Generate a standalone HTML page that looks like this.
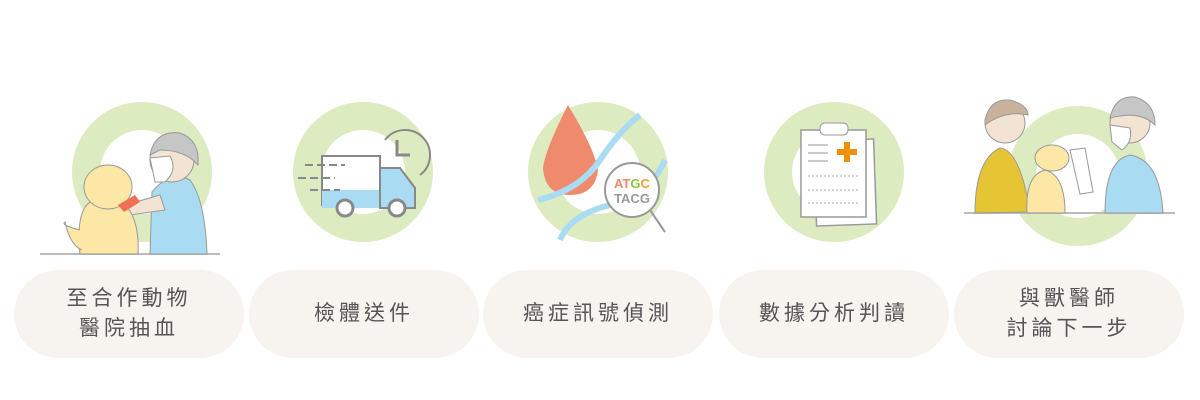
<!DOCTYPE html>
<html><head><meta charset="utf-8"><style>
body{margin:0;width:1200px;height:400px;background:#fff;position:relative;overflow:hidden;font-family:"Liberation Sans","Noto Sans CJK TC",sans-serif}
.p{position:absolute;top:270px;width:230px;height:88px;border-radius:44px;background:#f7f3ee;color:#555;font-size:21px;letter-spacing:4px;line-height:30px;display:flex;align-items:center;justify-content:center;text-align:center}
svg{position:absolute;left:0;top:0}
</style></head><body>
<svg width="1200" height="270" viewBox="0 0 1200 270">
<g fill="none" stroke="#dcebc0" stroke-width="28">
<circle cx="142" cy="172" r="56"/><circle cx="363" cy="172" r="56"/><circle cx="598" cy="172" r="56"/><circle cx="834" cy="172" r="56"/><circle cx="1078" cy="176" r="56"/>
</g>
<line x1="40" y1="254" x2="220" y2="254" stroke="#bbb" stroke-width="2"/>
<path d="M152 192 Q170 170 190 180 Q205 200 207 254 L150 254 Z" fill="#a9dcf3" stroke="#999"/>
<path d="M125 205 L160 195 L165 210 L130 215 Z" fill="#f3e3d3" stroke="#999"/>
<circle cx="172" cy="160" r="22" fill="#f3e3d3" stroke="#999"/>
<path d="M150 155 Q155 130 180 133 Q200 140 198 165 Q185 150 160 150 Z" fill="#c6c6c6" stroke="#999"/>
<path d="M150 158 L170 156 Q178 170 165 182 L155 182 Z" fill="#fff" stroke="#999"/>
<path d="M80 254 Q75 205 95 200 L120 200 Q140 215 138 254 Z" fill="#fde7a6" stroke="#999"/>
<path d="M80 230 Q60 225 65 222 Q70 245 82 250" fill="#fde7a6" stroke="#999"/>
<ellipse cx="108" cy="187" rx="24" ry="22" fill="#fde7a6" stroke="#999"/>
<path d="M118 205 L135 195 L140 202 L124 212 Z" fill="#ef7052"/>
<path d="M322 156 L380 156 L380 205 L322 205 Z" fill="#fff" stroke="#888" stroke-width="2"/>
<path d="M322 190 L415 190 L415 208 L322 208 Z" fill="#a9dcf3"/>
<path d="M380 168 L400 168 L415 188 L415 208 L380 208 Z" fill="#a9dcf3" stroke="#888" stroke-width="2"/>
<circle cx="345" cy="208" r="8" fill="#fff" stroke="#888" stroke-width="3"/>
<circle cx="397" cy="208" r="8" fill="#fff" stroke="#888" stroke-width="3"/>
<path d="M385 140 A25 25 0 1 1 420 175" fill="none" stroke="#888" stroke-width="2"/>
<path d="M397 140 L397 155 L410 155" fill="none" stroke="#888" stroke-width="3"/>
<g stroke="#888" stroke-width="2" stroke-dasharray="8 4"><line x1="305" y1="165" x2="345" y2="165"/><line x1="298" y1="178" x2="335" y2="178"/><line x1="310" y1="190" x2="340" y2="190"/></g>
<path d="M568 105 Q545 150 543 168 Q545 195 570 195 Q595 195 598 170 Q595 150 568 105 Z" fill="#ef8a6c"/>
<path d="M538 200 Q580 190 600 160 Q620 130 640 115" fill="none" stroke="#a9dcf3" stroke-width="6"/>
<path d="M560 240 Q570 215 610 205 Q650 195 665 160" fill="none" stroke="#a9dcf3" stroke-width="6"/>
<circle cx="632" cy="190" r="27" fill="#fff" stroke="#999" stroke-width="2"/>
<line x1="650" y1="210" x2="665" y2="232" stroke="#999" stroke-width="2"/>
<text x="632" y="188" text-anchor="middle" font-size="13" font-weight="bold" font-family="Liberation Sans"><tspan fill="#ef8a6c">AT</tspan><tspan fill="#8cc63f">G</tspan><tspan fill="#f0a030">C</tspan></text>
<text x="632" y="203" text-anchor="middle" font-size="13" font-weight="bold" fill="#999" font-family="Liberation Sans">TACG</text>
<rect x="815" y="140" width="60" height="85" fill="#fff" stroke="#999" stroke-width="1.5" transform="rotate(-2 845 180)"/>
<rect x="801" y="130" width="65" height="87" fill="#fff" stroke="#999" stroke-width="1.5"/>
<rect x="820" y="123" width="28" height="12" rx="5" fill="#fff" stroke="#999"/>
<path d="M847 142 v20 M837 152 h20" stroke="#f0900a" stroke-width="6"/>
<g stroke="#aaa" stroke-width="1.2"><line x1="808" y1="145" x2="828" y2="145"/><line x1="808" y1="153" x2="828" y2="153"/><line x1="808" y1="161" x2="828" y2="161"/></g>
<g stroke="#aaa" stroke-dasharray="2 2"><line x1="808" y1="176" x2="860" y2="176"/><line x1="808" y1="190" x2="860" y2="190"/><line x1="808" y1="203" x2="860" y2="203"/></g>
<line x1="964" y1="213" x2="1175" y2="213" stroke="#bbb" stroke-width="2"/>
<path d="M975 213 Q975 160 1000 148 Q1020 150 1030 212 Z" fill="#e6c534" stroke="#999"/>
<circle cx="1005" cy="123" r="20" fill="#f3e3d3" stroke="#999"/>
<path d="M985 120 Q990 98 1010 100 Q1028 105 1028 115 Q1005 110 985 125 Z" fill="#c8b29c" stroke="#999"/>
<path d="M1105 213 Q1105 160 1130 155 Q1160 160 1163 213 Z" fill="#a9dcf3" stroke="#999"/>
<circle cx="1130" cy="123" r="20" fill="#f3e3d3" stroke="#999"/>
<path d="M1110 118 Q1115 95 1135 97 Q1155 103 1155 125 Q1140 110 1110 118 Z" fill="#c6c6c6" stroke="#999"/>
<path d="M1110 125 L1130 128 Q1133 142 1122 150 L1112 142 Z" fill="#fff" stroke="#999"/>
<path d="M1070 150 L1085 148 L1093 192 L1080 194 Z" fill="#fff" stroke="#999"/>
<path d="M1027 213 Q1025 175 1045 170 Q1065 175 1065 213 Z" fill="#fde7a6" stroke="#999"/>
<ellipse cx="1052" cy="158" rx="17" ry="13" fill="#fde7a6" stroke="#999"/>
</svg>
<div class="p" style="left:14px">至合作動物<br>醫院抽血</div>
<div class="p" style="left:249px">檢體送件</div>
<div class="p" style="left:483px">癌症訊號偵測</div>
<div class="p" style="left:719px">數據分析判讀</div>
<div class="p" style="left:954px">與獸醫師<br>討論下一步</div>
</body></html>
